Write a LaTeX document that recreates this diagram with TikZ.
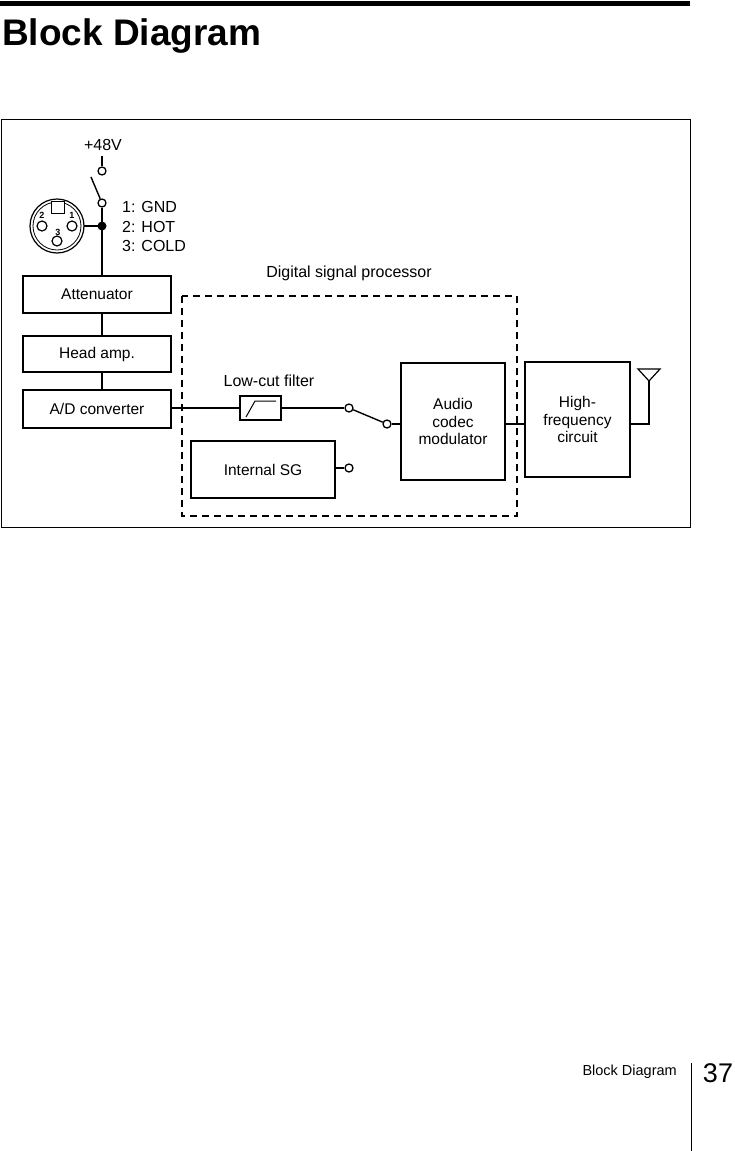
\documentclass[tikz,border=0pt]{standalone}
\usepackage{fontspec}
\setmainfont{Liberation Sans}
\begin{document}
\begin{tikzpicture}[x=1pt,y=-1pt,
  box/.style={draw,line width=1.4pt,inner sep=0pt,align=center,font=\fontsize{15.5}{17.5}\selectfont},
  wire/.style={line width=1.4pt},
  term/.style={circle,draw,line width=1.3pt,fill=white,minimum size=8pt,inner sep=0pt},
  lbl/.style={font=\fontsize{16}{18}\selectfont,inner sep=0pt}]
\useasboundingbox (0,0) rectangle (734,1151);
\draw[line width=5pt] (0,3) -- (690,3);
\node[anchor=base west,font=\bfseries\fontsize{37}{40}\selectfont,inner sep=0pt] (title) at (2,45) {Block Diagram};
\draw[line width=0.8pt] (1,119) rectangle (690,527);
% top
\node[lbl] (v48) at (103,145) {+48V};
\node[term] (t1) at (102,171) {};
\node[term] (t2) at (102,203) {};
\draw[wire] (102,156) -- (t1);
\coordinate (arm) at (91,177);
\draw[wire] (arm) -- (t2);
\fill (102,226) circle (4.5pt) coordinate (dot);
% connector
\draw[line width=1.2pt] (57,226) circle (27);
\draw[line width=0.8pt] (57,226) circle (24);
\draw[line width=1pt,fill=white] (51,201) rectangle (64,213);
\node[circle,draw,line width=1.2pt,minimum size=10pt,inner sep=0pt] (p1) at (72,226) {};
\node[circle,draw,line width=1.2pt,minimum size=10pt,inner sep=0pt] (p2) at (42,226) {};
\node[circle,draw,line width=1.2pt,minimum size=10pt,inner sep=0pt] (p3) at (57,241) {};
\node[font=\bfseries\fontsize{9}{9}\selectfont] at (72,215) {1};
\node[font=\bfseries\fontsize{9}{9}\selectfont] at (42,215) {2};
\node[font=\bfseries\fontsize{9}{9}\selectfont] at (58,232) {3};
\draw[wire] (84,226) -- (dot);
\node[lbl,anchor=west] at (122,207) {1: GND};
\node[lbl,anchor=west] at (122,227) {2: HOT};
\node[lbl,anchor=west] at (122,246) {3: COLD};
% left chain
\node[box,minimum width=148pt,minimum height=37pt] (att) at (97,294.5) {Attenuator};
\node[box,minimum width=148pt,minimum height=36pt] (head) at (97,354) {Head amp.};
\node[box,minimum width=148pt,minimum height=38pt] (ad) at (97,409) {A/D converter};
\draw[wire] (t2) -- (102,275);
\draw[wire] (102,313) -- (102,336);
\draw[wire] (102,372) -- (102,390);
% DSP
\node[lbl] (dsp) at (349,273) {Digital signal processor};
\draw[line width=1.4pt,dash pattern=on 7pt off 5pt] (182,296) rectangle (517,516);
\node[lbl] (lcl) at (269,381) {Low-cut filter};
\node[draw,line width=1.4pt,minimum width=41pt,minimum height=24pt,inner sep=0pt] (lcf) at (260.5,408) {};
\draw[line width=1pt] (246,417) -- (255,401) -- (276,401);
\node[term] (s1) at (349,408) {};
\node[term] (s2) at (387,424) {};
\node[term] (s3) at (349,468) {};
\draw[wire] (ad.east |- lcf) -- (lcf);
\draw[wire] (lcf) -- (s1);
\draw[wire] (s1) -- (s2);
\node[box,minimum width=104pt,minimum height=117pt] (aud) at (453,421.5) {Audio\\codec\\modulator};
\node[box,minimum width=105pt,minimum height=115pt] (hf) at (577.5,419.5) {High-\\frequency\\circuit};
\node[box,minimum width=144pt,minimum height=57pt] (sg) at (263,469.5) {Internal SG};
\draw[wire] (s2) -- (aud.west |- s2);
\draw[wire] (aud.east |- s2) -- (hf.west |- s2);
\draw[wire] (sg.east |- s3) -- (s3);
\coordinate (ant) at (649,381);
\draw[wire] (hf.east |- s2) -- (649,424) -- (ant);
\draw[line width=1.2pt] (638,369) -- (660,369) -- (649,381) -- cycle;
% footer
\node[anchor=base east,font=\fontsize{14.5}{16}\selectfont,inner sep=0pt] (ft) at (677,1075) {Block Diagram};
\node[anchor=base,font=\fontsize{27}{28}\selectfont,inner sep=0pt] (pg) at (718,1082) {37};
\draw[line width=0.8pt] (691,1063) -- (691,1151);
\end{tikzpicture}
\end{document}
